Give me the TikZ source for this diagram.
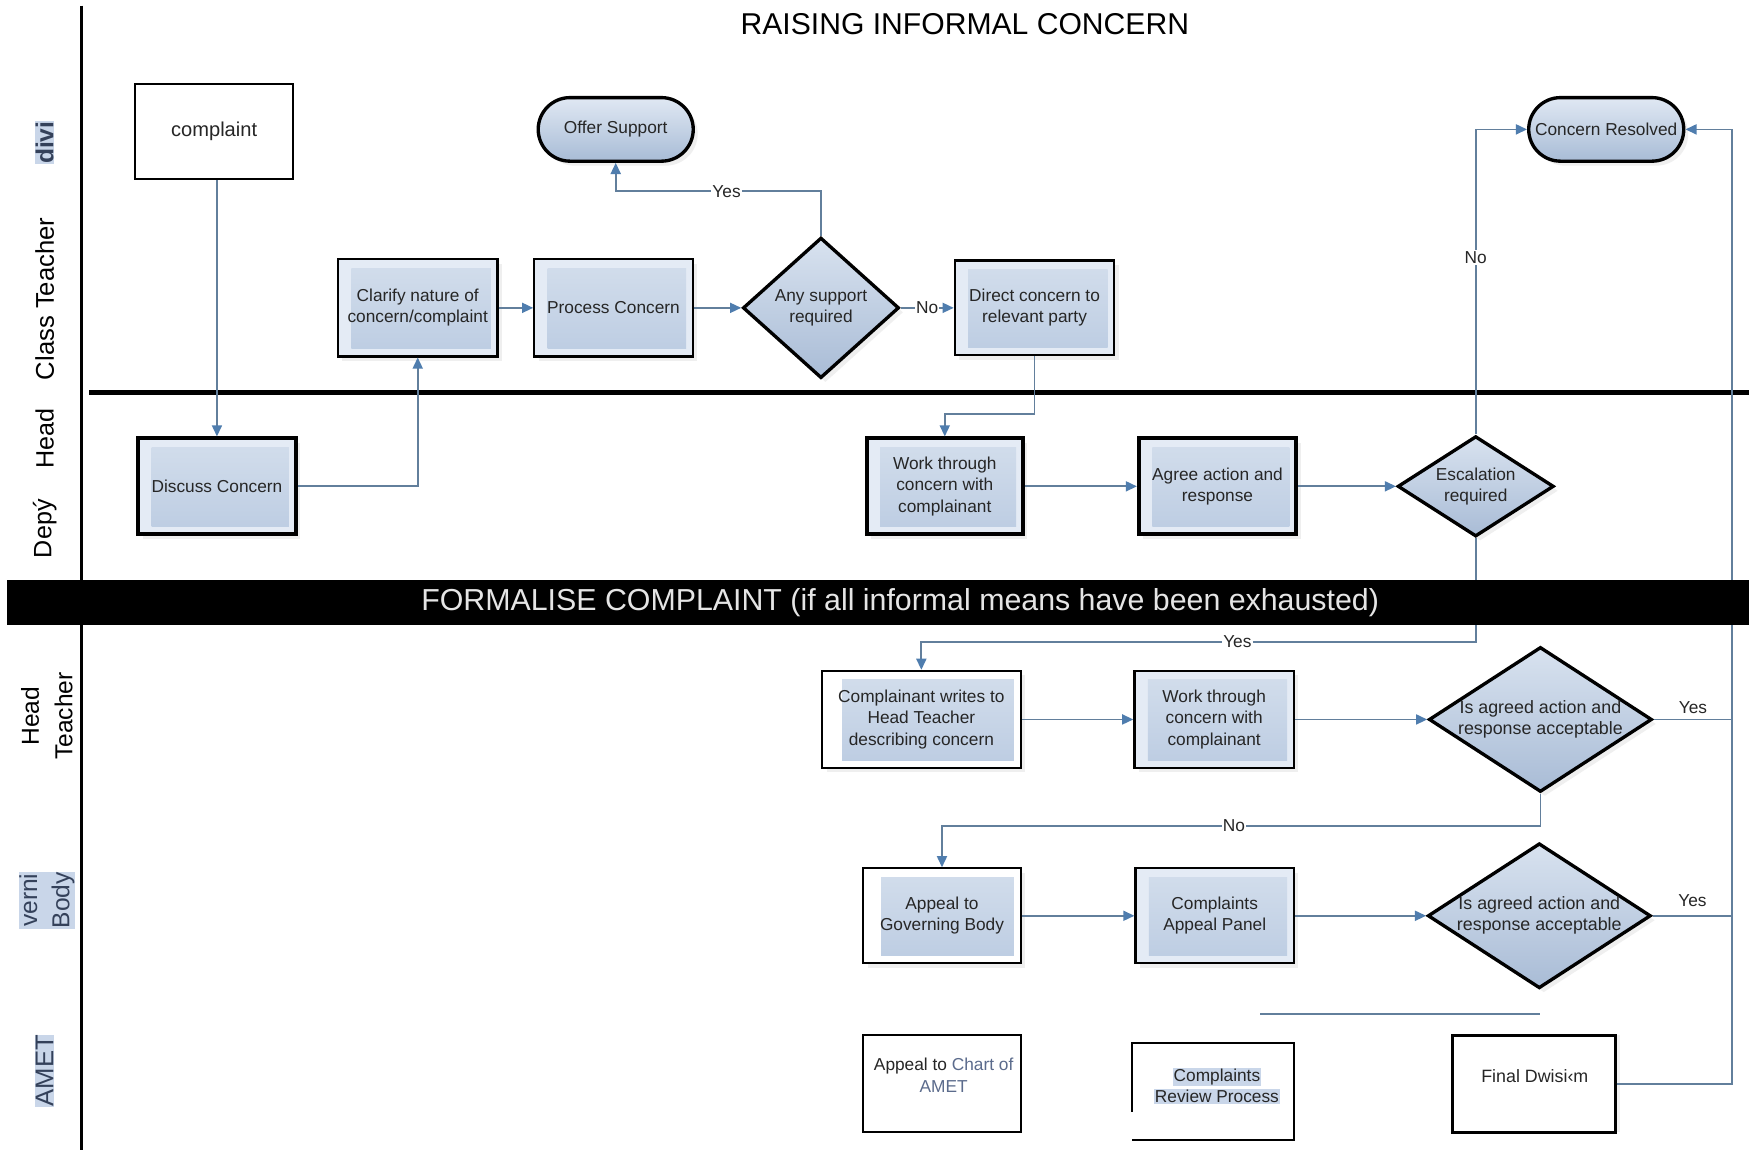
\documentclass[tikz,border=0pt]{standalone}
\usepackage{fontspec}
\setmainfont{Liberation Sans}
\usetikzlibrary{shapes.geometric,shapes.misc,arrows.meta,shadows,calc}
\definecolor{laneband}{HTML}{E3E9F1}
\definecolor{connc}{HTML}{627F9C}
\definecolor{arrowc}{HTML}{4F7DAE}
\definecolor{boxout}{HTML}{E4EBF5}
\definecolor{inA}{HTML}{D3DEEC}
\definecolor{inB}{HTML}{BCCCE2}
\definecolor{diaA}{HTML}{D8E2EF}
\definecolor{diaB}{HTML}{A9BCD6}
\definecolor{stA}{HTML}{E0E8F3}
\definecolor{stB}{HTML}{A8BCD6}
\definecolor{hl}{HTML}{C9D6E9}
\definecolor{txtc}{HTML}{262626}
\definecolor{lbltxt}{HTML}{34415A}
\definecolor{ametc}{HTML}{5B6B8C}
\newcommand{\fz}[2]{\fontsize{#1}{#2}\selectfont}
\setlength{\fboxsep}{0.6pt}
\pgfdeclarelayer{back}\pgfdeclarelayer{front}\pgfsetlayers{back,main,front}
\begin{document}
\begin{tikzpicture}[x=1pt,y=-1pt,
  txtsty/.style={align=center,inner sep=0pt,text=txtc,font=\fz{15.5}{19}},
  boxsty/.style={draw=black,line width=2pt,fill=boxout,align=center,inner sep=0pt,text=txtc,font=\fz{15.5}{19},
    drop shadow={shadow xshift=4pt,shadow yshift=-4pt,fill=black!12}},
  insh/.style={path picture={\shade[top color=inA,bottom color=inB]
      ([xshift=#1,yshift=7pt]path picture bounding box.south west) rectangle
      ([xshift=-6pt,yshift=-8pt]path picture bounding box.north east);}},
  insh/.default=12pt,
  thickbox/.style={boxsty,insh,line width=3.5pt},
  plainbox/.style={draw=black,line width=2pt,fill=white,inner sep=0pt,align=center,text=txtc},
  dia/.style={diamond,draw=black,line width=3pt,top color=diaA,bottom color=diaB,inner sep=0pt,
    drop shadow={shadow xshift=4pt,shadow yshift=-4pt,fill=black!12}},
  stad/.style={rounded rectangle,draw=black,line width=3pt,top color=stA,bottom color=stB,inner sep=0pt,
    minimum width=139pt,minimum height=57pt,text=txtc,font=\fz{15.5}{19},
    drop shadow={shadow xshift=4pt,shadow yshift=-4pt,fill=black!12}},
  conn/.style={draw=connc,line width=1.6pt},
  arr/.style={conn,-{Triangle[length=10pt,width=9pt,color=arrowc,fill=arrowc]}},
  ylbl/.style={fill=white,inner sep=1pt,text=txtc,font=\fz{15.5}{18}},
  nlbl/.style={inner sep=1pt,text=txtc,font=\fz{15.5}{18}},
  lanelbl/.style={rotate=90,inner sep=0pt,align=center,text=black,font=\fz{22.5}{29}},
  hllbl/.style={lanelbl,fill=hl,text=lbltxt,inner sep=0.5pt}
]
\useasboundingbox (0,0) rectangle (1568,1031);
\fill[white] (0,0) rectangle (1568,1031);

% lane backgrounds
\begin{pgfonlayer}{back}
\fill[laneband] (80,190) rectangle (1568,352);
\fill[white] (88,198) rectangle (1568,348);
\fill[laneband] (80,356) rectangle (1568,518);
\fill[white] (88,364) rectangle (1568,511);
\fill[laneband] (481,179) rectangle (737,185);
\fill[laneband] (1323,179) rectangle (1553,185);
\fill[laneband] (755,563) rectangle (1553,568);
\fill[laneband] (755,716) rectangle (1553,722);
\fill[laneband] (762,733) rectangle (1553,738);
\fill[laneband] (790,738) rectangle (795,884);
\fill[laneband] (790,884) rectangle (1553,890);
\fill[laneband] (1450,903) rectangle (1553,909);
\end{pgfonlayer}

% frame lines
\draw[black,line width=2.5pt] (73,5) -- (73,1031);
\draw[black,line width=4pt] (80,352) -- (1568,352);
\draw[connc,line width=1pt] (1130,909) -- (1381,909);

% title
\node[font=\fz{27}{32},text=black,inner sep=0pt] (title) at (865,22) {RAISING INFORMAL CONCERN};

% lane labels
\node[hllbl,font=\bfseries\fz{22}{29}] (Ldivi) at (40,128) {divi};
\node[lanelbl,font=\fz{23}{29}] (Lct) at (40,268) {Class Teacher};
\node[lanelbl] (Lhead) at (40,393) {Head};
\node[lanelbl] (Ldep) at (40,474) {Depý};
\node[lanelbl,font=\fz{22}{30}] (Lht) at (42,642) {Head\\Teacher};
\node[hllbl,font=\fz{22}{29}] (Lgb) at (42,807) {verni\\Body};
\node[hllbl,font=\fz{23}{29}] (Lamet) at (40,960) {AMET};

% top lane
\node[plainbox,minimum width=142pt,minimum height=85pt,font=\fz{18}{22}] (cmp) at (192,118) {complaint};
\node[stad] (offer) at (552,116) {Offer Support};
\node[stad] (resolved) at (1440,116) {Concern Resolved};

% class teacher lane
\node[boxsty,insh,minimum width=143pt,minimum height=87pt] (clarify) at (374.5,276) {Clarify nature of\\concern/complaint};
\node[boxsty,insh,minimum width=142pt,minimum height=87pt] (process) at (550,276) {Process Concern};
\node[dia,minimum width=140pt,minimum height=126pt,
  label={[txtsty]center:{Any support\\required}}] (anysup) at (736,276) {};
\node[boxsty,insh,minimum width=143pt,minimum height=85pt] (direct) at (927.5,276) {Direct concern to\\relevant party};

% deputy head lane
\node[thickbox,minimum width=141pt,minimum height=86pt] (discuss) at (194.5,436) {Discuss Concern};
\node[thickbox,minimum width=140pt,minimum height=86pt] (work1) at (847,436) {Work through\\concern with\\complainant};
\node[thickbox,minimum width=141pt,minimum height=86pt] (agree) at (1091.5,436) {Agree action and\\response};
\node[dia,minimum width=140pt,minimum height=90pt,
  label={[txtsty]center:{Escalation\\required}}] (escal) at (1323,436) {};

% head teacher lane
\node[boxsty,fill=white,insh=18pt,minimum width=178pt,minimum height=87pt] (cwrites) at (826,645) {Complainant writes to\\Head Teacher\\describing concern};
\node[boxsty,insh,minimum width=143pt,minimum height=87pt] (work2) at (1088.5,645) {Work through\\concern with\\complainant};
\node[dia,minimum width=200pt,minimum height=130pt,
  label={[txtsty,font=\fz{16}{19}]center:{Is agreed action and\\response acceptable}}] (acc1) at (1381,645) {};

% governing body lane
\node[boxsty,fill=white,insh=16pt,minimum width=141pt,minimum height=85pt] (appeal) at (844.5,821) {Appeal to\\Governing Body};
\node[boxsty,insh,minimum width=142pt,minimum height=85pt] (panel) at (1089,821) {Complaints\\Appeal Panel};
\node[dia,minimum width=200pt,minimum height=130pt,
  label={[txtsty,font=\fz{16}{19}]center:{Is agreed action and\\response acceptable}}] (acc2) at (1380,821) {};

% AMET lane
\node[plainbox,minimum width=141pt,minimum height=87pt] (chart) at (844.5,971.5) {};
\node[txtsty] (chartT) at (846,964) {Appeal to \textcolor{ametc}{Chart of}\\\textcolor{ametc}{AMET}};
\node[minimum width=145pt,minimum height=87pt,inner sep=0pt] (review) at (1087.5,978.5) {};
\draw[black,line width=1.8pt] ($(review.north west)+(0,62)$) -- (review.north west) -- (review.north east)
  -- (review.south east) -- (review.south west);
\node[txtsty] (reviewT) at (1091,973.5) {\colorbox{hl}{Complaints}\\\colorbox{hl}{Review Process}};
\node[plainbox,line width=2.6pt,minimum width=146pt,minimum height=87pt,
  drop shadow={shadow xshift=4pt,shadow yshift=0pt,fill=black!10}] (final) at (1375,971.5) {};
\node[txtsty,font=\fz{16}{19}] (finalT) at (1376,965) {Final Dwisi‹m};

% rail
\coordinate (railx) at (1553,0);

% connectors
\draw[arr] (discuss.north |- cmp.south) -- (discuss.north);
\draw[arr] (discuss.east) -| (clarify.south);
\draw[arr] (clarify.east) -- (process.west);
\draw[arr] (process.east) -- (anysup.west);
\draw[arr] (anysup.east) -- node[ylbl]{No} (direct.west);
\draw[arr] (anysup.north) -- ++(0,-40) -| node[ylbl,pos=0.23]{Yes} (offer.south);
\draw[arr] (direct.south) -- ++(0,52) -| (work1.north);
\draw[arr] (work1.east) -- (agree.west);
\draw[arr] (agree.east) -- (escal.west);
\draw[arr] (escal.north) |- node[ylbl,pos=0.29]{No} (resolved.west);
\draw[arr] (escal.south) -- ++(0,93) -| node[ylbl,pos=0.215]{Yes} (cwrites.north);
\draw[arr] (cwrites.east) -- (work2.west);
\draw[arr] (work2.east) -- (acc1.west);
\draw[conn] (acc1.east) -- node[nlbl,above=3pt]{Yes} (acc1.east -| railx);
\draw[arr] (acc1.south) -- ++(0,29) -| node[ylbl,pos=0.256]{No} (appeal.north);
\draw[arr] (appeal.east) -- (panel.west);
\draw[arr] (panel.east) -- (acc2.west);
\draw[conn] (acc2.east) -- node[nlbl,above=6pt]{Yes} (acc2.east -| railx);
\draw[arr] (final.east) -- (final.east -| railx) |- (resolved.east);

% formalise bar
\begin{pgfonlayer}{front}
\fill[black] (6,520) rectangle (1568,560);
\node[text=white!90!black,font=\fz{27.2}{32},inner sep=0pt] (barT) at (807,540)
  {FORMALISE COMPLAINT (if all informal means have been exhausted)};
\end{pgfonlayer}
\end{tikzpicture}
\end{document}
